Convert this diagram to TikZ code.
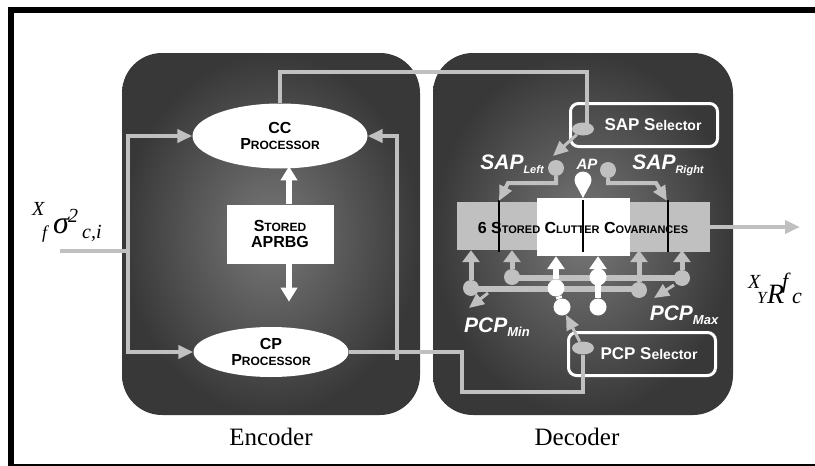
\documentclass[tikz,border=0pt]{standalone}
\usepackage{amsmath}
\usepackage{amssymb}
\usepackage{fontspec}
\setmainfont{Liberation Serif}
\setsansfont{Liberation Sans}
\usepackage{tikz}
\usetikzlibrary{positioning,shapes.geometric,arrows.meta}
\definecolor{lgray}{RGB}{192,192,192}
\definecolor{dgray}{RGB}{56,56,56}
\definecolor{mgray}{RGB}{120,120,120}
\newcommand{\fsz}[1]{\fontsize{#1}{#1}\selectfont}
\tikzset{
        panel/.style={rounded corners=40pt, inner color=mgray, outer color=dgray},
        proc/.style={fill=white, ellipse, inner sep=0pt, align=center, font=\sffamily\bfseries\fsz{16}},
        gline/.style={draw=lgray, line width=4pt},
        garrow/.style={gline, -{Triangle[width=13pt,length=15pt]}},
        warrow/.style={draw=white, line width=6pt, -{Triangle[width=16pt,length=14pt]}},
        sel/.style={draw=white, line width=3pt, rounded corners=8pt, minimum width=147pt, minimum height=43pt, text=white, font=\sffamily\bfseries\fsz{17}},
        lab/.style={text=white, font=\sffamily\bfseries\itshape\fsz{21}},
        sym/.style={anchor=base west, inner sep=0pt, font=\itshape},
        blob/.style={fill=lgray, ellipse, inner sep=0pt, minimum width=22pt, minimum height=13pt},
        dot/.style={circle, fill=lgray, inner sep=0pt, minimum size=16pt},
        wdot/.style={circle, fill=white, inner sep=0pt, minimum size=17pt},
        part/.style={inner sep=0pt}
}
\begin{document}
\begin{tikzpicture}[x=1pt, y=-1pt]
        \useasboundingbox (0,0) rectangle (815,466);
        % frame
        \draw[line width=6pt] (11,466) -- (11,10) -- (815,10);
        \draw[line width=1.5pt] (8,465) -- (815,465);

        % panels
        \shade[panel] (122,53) rectangle (420,415);
        \shade[panel] (433,53) rectangle (733,415);
        \node[font=\fsz{25}] (ENC) at (271,437) {Encoder};
        \node[font=\fsz{25}] (DEC) at (577,437) {Decoder};

        % encoder
        \node[proc, minimum width=175pt, minimum height=65pt] (CC) at (280,136) {CC\\P{\fsz{12}ROCESSOR}};
        \node[proc, minimum width=155pt, minimum height=50pt] (CP) at (271,352) {CP\\P{\fsz{12}ROCESSOR}};
        \node[fill=white, minimum width=107pt, minimum height=59pt, align=center, font=\sffamily\bfseries\fsz{16}] (APRBG) at (280,234) {S{\fsz{12}TORED}\\APRBG};
        \draw[warrow] ([xshift=9pt]APRBG.north) -- ++(0,-38);
        \draw[warrow] ([xshift=9pt]APRBG.south) -- ++(0,38);

        \node[sym] (SIG) at (32,233) {\makebox[10pt][l]{\raisebox{18pt}{\fsz{20}X}}\makebox[11pt][l]{\raisebox{-5pt}{\fsz{18}f}}\makebox[15pt][l]{\fsz{32}σ}\makebox[14pt][l]{\raisebox{11pt}{\fsz{20}2}}\raisebox{-5pt}{\fsz{20}c,i}};
        \coordinate (IN) at (60,251);
        \coordinate (J) at (128,251);
        \coordinate (FB) at (397,360);
        \draw[gline] (IN) -- (J);
        \draw[garrow] (J) |- (CC.west);
        \draw[garrow] (J) |- (CP.west);
        \draw[garrow] (FB) |- (CC.east);

        % decoder
        \node[sel] (SAPS) at (644,125) {\hspace{18pt}SAP S{\fsz{14}elector}};
        \node[sel] (PCPS) at (642,354) {\hspace{14pt}PCP S{\fsz{14}elector}};
        \node[blob] (SAPb) at (583,129) {};
        \node[blob] (PCPb) at (583,348) {};
        \coordinate (T1) at (587,72);
        \coordinate (P1) at (462,352);
        \coordinate (P2) at (583,392);
        \draw[gline] (CC.north) |- (T1) -- (T1 |- SAPb);
        \draw[gline] (CP.east) -- (P1) |- (P2) -- (PCPb);

        \node[part, fill=lgray, minimum width=83pt, minimum height=48pt] (L) at (498.5,226) {};
        \node[part, fill=lgray, minimum width=84pt, minimum height=50pt] (R) at (668,227) {};
        \node[part, fill=white, minimum width=93pt, minimum height=58pt] (M) at (583.5,227) {};
        \foreach \x in {499,583,668}
                \draw[line width=1.5pt] (\x,200) -- (\x,252);
        \node[font=\sffamily\bfseries\fsz{16}] (SCC) at (583,228) {6 S{\fsz{11}TORED} C{\fsz{11}LUTTER} C{\fsz{11}OVARIANCES}};
        \coordinate (OUT) at (800,227);
        \draw[garrow] (R.east) -- (OUT);
        \node[sym] (RXY) at (748,303) {\makebox[9pt][l]{\raisebox{15pt}{\fsz{20}X}}\makebox[10pt][l]{\fsz{17}Y}\makebox[15pt][l]{\fsz{28}R}\makebox[10pt][l]{\raisebox{15pt}{\fsz{22}f}}{\fsz{22}c}};

        % SAP
        \node[lab] (SAPL) at (512,164) {SAP\raisebox{-4pt}{\fsz{11}Left}};
        \node[lab] (SAPR) at (668,165) {SAP\raisebox{-4pt}{\fsz{11}Right}};
        \node[lab, font=\sffamily\bfseries\itshape\fsz{15}] (APL) at (587,164) {AP};
        \node[dot] (SL) at (556,168) {};
        \node[dot] (SR) at (608,170) {};
        \node[wdot] (AP) at (583,180) {};
        \fill[white] (575.5,184) -- (583,198) -- (590.5,184) -- cycle;
        \coordinate (SLt) at (553,156);
        \draw[garrow, line width=3pt] (SAPb) -- (SLt);
        \draw[garrow] (SL) -- ++(0,15) -- ++(-48,0) -- ++(-9,18);
        \draw[garrow] (SR) -- ++(0,13) -- ++(48,0) -- ++(11,18);

        % PCP
        \draw[lgray, line width=6pt] (512,278) -- (682,278);
        \draw[lgray, line width=6pt] (471,289) -- (639,289);
        \node[dot] (D1) at (471,288) {};
        \node[dot] (D2) at (512,277) {};
        \node[dot] (D3) at (639,290) {};
        \node[dot] (D4) at (682,278) {};
        \foreach \d in {D1,D2,D3,D4}
                \draw[garrow, line width=5pt, -{Triangle[width=17pt,length=12pt]}] (\d) -- (\d |- L.south);
        \node[wdot] (W1) at (556,288) {};
        \node[wdot] (W2) at (562,307) {};
        \node[wdot] (W3) at (598,277) {};
        \node[wdot] (W4) at (598,307) {};
        \draw[white, line width=6pt] (W2) -- (W1);
        \draw[warrow, -{Triangle[width=17pt,length=13pt]}] (W1) -- (W1 |- M.south);
        \draw[warrow, -{Triangle[width=17pt,length=13pt]}] (W4) -- (W4 |- M.south);
        \draw[garrow, line width=3pt] (PCPb) -- (W2);

        \node[lab] (PMIN) at (497,327) {PCP\raisebox{-4pt}{\fsz{13}Min}};
        \node[lab] (PMAX) at (684,315) {PCP\raisebox{-4pt}{\fsz{13}Max}};
        \coordinate (M1) at (488,293);
        \coordinate (M2) at (469,308);
        \coordinate (X1) at (674,285);
        \coordinate (X2) at (654,298);
        \draw[garrow, line width=3pt] (M1) -- (M2);
        \draw[garrow, line width=3pt] (X1) -- (X2);
\end{tikzpicture}
\end{document}
